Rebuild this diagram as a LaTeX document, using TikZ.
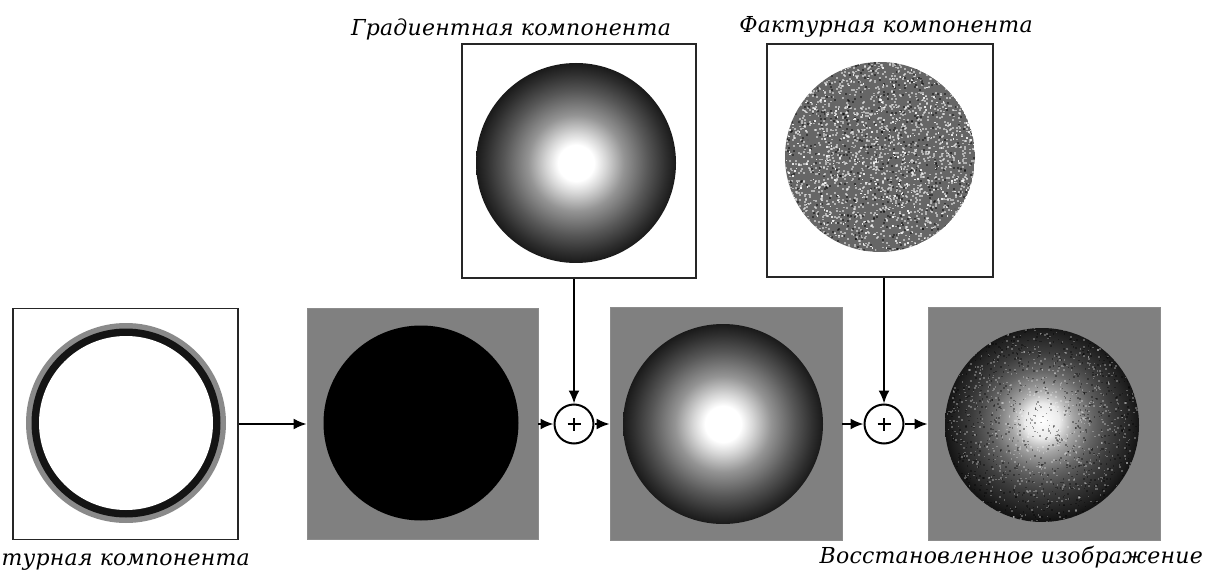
\documentclass[tikz,border=0pt]{standalone}
\usepackage{fontspec}
\setmainfont{DejaVu Serif}
\usetikzlibrary{arrows.meta}
\pgfdeclareradialshading{gradA}{\pgfpoint{0bp}{0bp}}{color(0bp)=(white); color(4.5bp)=(white); color(7.5bp)=(black!16); color(12bp)=(black!42); color(18bp)=(black!66); color(22.5bp)=(black!82); color(25bp)=(black!90); color(50bp)=(black!90)}
\pgfdeclareradialshading{gradB}{\pgfpoint{0bp}{1.2bp}}{color(0bp)=(white); color(4.5bp)=(black!8); color(8bp)=(black!35); color(13bp)=(black!60); color(18bp)=(black!76); color(23bp)=(black!87); color(25bp)=(black!92); color(50bp)=(black!92)}
\definecolor{bggray}{RGB}{128,128,128}
\definecolor{ringgray}{RGB}{138,138,138}
\tikzset{
  wbox/.style={draw=black!85, line width=1.5pt, fill=white, inner sep=0pt},
  gbox/.style={draw=black!45, line width=0.8pt, fill=bggray, inner sep=0pt},
  sumnode/.style={circle, draw=black, line width=2pt, fill=white, minimum size=39pt, inner sep=0pt},
  conn/.style={line width=2pt, -{Latex[length=13pt,width=11pt]}},
  lbl/.style={font=\fontsize{22}{26}\selectfont\itshape\addfontfeatures{LetterSpace=1}, inner sep=0pt}
}
\begin{document}
\begin{tikzpicture}[x=1pt,y=-1pt]
\useasboundingbox (0,0) rectangle (1205,572);
% boxes
\node[wbox, minimum width=234pt, minimum height=234pt] (g) at (579,161) {};
\node[wbox, minimum width=226pt, minimum height=233pt] (t) at (880,160.5) {};
\node[wbox, minimum width=225pt, minimum height=231pt] (b1) at (125.5,424) {};
\node[gbox, minimum width=231pt, minimum height=231pt] (b2) at (422.5,424) {};
\node[gbox, minimum width=232pt, minimum height=233pt] (b3) at (726,424) {};
\node[gbox, minimum width=232pt, minimum height=233pt] (b4) at (1044,424) {};
\node[sumnode] (p1) at (574,424) {};
\node[sumnode] (p2) at (884,424) {};
% contour
\fill[ringgray] (126,423) circle (100);
\fill[black!92] (126,423) circle (94.5);
\fill[white] (126,423) circle (87);
% black disk
\fill[black] (421,423) circle (97.5);
% gradient disks
\shade[shading=gradA] (576,163) circle (100);
\shade[shading=gradA] (723,424) circle (100);
% texture disk
\pgfmathsetseed{7}
\begin{scope}
\clip (880,157) circle (95);
\fill[black!60] (880,157) circle (95);
\foreach \i in {1,...,2100}{\fill[white, opacity=0.5] ({880+96*rand},{157+96*rand}) rectangle +(2,1.8);}
\foreach \i in {1,...,600}{\fill[black, opacity=0.45] ({880+96*rand},{157+96*rand}) rectangle +(2,2);}
\foreach \i in {1,...,400}{\fill[white, opacity=0.85] ({880+96*rand},{157+96*rand}) rectangle +(1.5,1.5);}
\end{scope}
% restored disk
\begin{scope}
\clip (1042,425) circle (97);
\shade[shading=gradB] (1042,425) circle (97);
\foreach \i in {1,...,1100}{\fill[black, opacity=0.35] ({1042+98*rand},{425+98*rand}) rectangle +(1.6,1.6);}
\foreach \i in {1,...,1000}{\fill[white, opacity=0.28] ({1042+98*rand},{425+98*rand}) rectangle +(1.6,1.6);}
\end{scope}
% plus signs
\draw[line width=2pt] ([xshift=-6.5pt]p1.center) -- ([xshift=6.5pt]p1.center) ([yshift=-6.5pt]p1.center) -- ([yshift=6.5pt]p1.center);
\draw[line width=2pt] ([xshift=-6.5pt]p2.center) -- ([xshift=6.5pt]p2.center) ([yshift=-6.5pt]p2.center) -- ([yshift=6.5pt]p2.center);
% connectors
\draw[conn] (b1.east) -- (b2.west);
\draw[conn] (b2.east) -- (p1.west);
\draw[conn] (p1.east) -- (b3.west);
\draw[conn] (b3.east) -- (p2.west);
\draw[conn] (p2.east) -- (b4.west);
\draw[conn] (g.south -| p1) -- (p1.north);
\draw[conn] (t.south -| p2) -- (p2.north);
% labels
\node[lbl, anchor=base] (lg) at (511,36) {Градиентная компонента};
\node[lbl, anchor=base] (lt) at (886,33) {Фактурная компонента};
\node[lbl, anchor=base east] (lc) at (250,565) {Контурная компонента};
\node[lbl, anchor=base east] (lr) at (1203,563) {Восстановленное изображение};
\end{tikzpicture}
\end{document}
